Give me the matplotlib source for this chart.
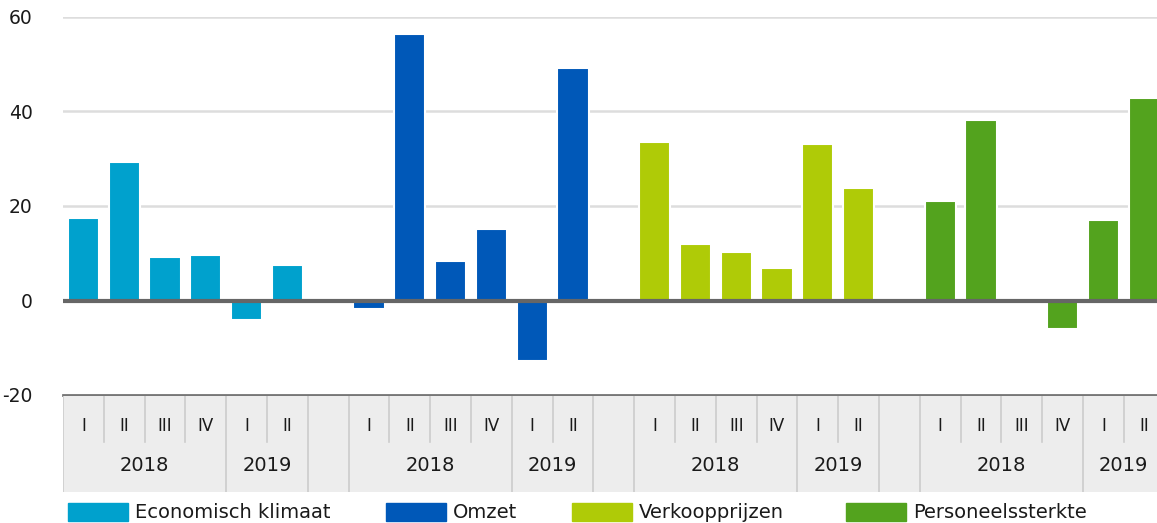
import matplotlib.pyplot as plt
from matplotlib.patches import Rectangle

# data: saldo per kwartaal, vier indicatoren
series = ["Economisch klimaat", "Omzet", "Verkoopprijzen", "Personeelssterkte"]
colors = ["#00a1cd", "#0058b8", "#afcb07", "#53a31e"]
quarters = ["I", "II", "III", "IV", "I", "II"]
years = ["2018", "2019"]
economisch = [17.5, 29.3, 9.3, 9.7, -4.2, 7.6]
omzet = [-1.7, 56.4, 8.4, 15.2, -12.8, 49.2]
verkoop = [33.6, 11.9, 10.2, 6.8, 33.2, 23.8]
personeel = [21.1, 38.2, 0.0, -6.0, 17.0, 42.9]
values = [economisch, omzet, verkoop, personeel]
yticks = [-20, 0, 20, 40, 60]

W, H = 1157, 523
plt.rcParams['font.family'] = ['DejaVu Sans']
fig = plt.figure(figsize=(W / 100, H / 100), dpi=100)
txtcol = "#1a1a1a"

slot = 40.8
x0 = 63
nslots = 27
ax = fig.add_axes([x0 / W, 1 - 395 / H, nslots * slot / W, (395 - 17) / H])
ax.set_xlim(-0.5, nslots - 0.5)
ax.set_ylim(-20, 60)

for g in range(4):
    xs = [7 * g + k for k in range(6)]
    ax.bar(xs, values[g], width=0.76, color=colors[g], edgecolor="white",
           linewidth=1.5, zorder=3)

ax.set_yticks(yticks)
ax.set_yticklabels([str(t) for t in yticks], fontsize=13.5, color=txtcol)
ax.tick_params(axis="y", length=0, pad=22)
ax.tick_params(axis="x", bottom=False, labelbottom=False)
ax.grid(axis="y", color="#dddddd", linewidth=1.8, zorder=0)
ax.axhline(0, color="#666666", linewidth=3, zorder=4)
for s in ["top", "right", "left"]:
    ax.spines[s].set_visible(False)
ax.spines["bottom"].set_color("#777777")
ax.spines["bottom"].set_linewidth(2)
ax.spines["bottom"].set_zorder(5)

# category axis box below
cax = fig.add_axes([x0 / W, 1 - 492 / H, nslots * slot / W, (492 - 396) / H])
cax.set_xlim(-0.5, nslots - 0.5)
cax.set_ylim(0, 1)
cax.set_facecolor("#ededed")
for s in cax.spines.values():
    s.set_visible(False)
cax.set_xticks([])
cax.set_yticks([])

cax.axvline(-0.5, color="#cccccc", linewidth=1.2)
for g in range(4):
    base = 7 * g
    for k, q in enumerate(quarters):
        cax.text(base + k, 0.69, q, ha="center", va="center", fontsize=12,
                 color=txtcol)
    for k in [0.5, 1.5, 2.5, 4.5]:
        cax.plot([base + k, base + k], [0.52, 1], color="#cccccc", linewidth=1.2)
    for k in [3.5, 5.5, 6.5]:
        cax.axvline(base + k, color="#cccccc", linewidth=1.2)
    cax.text(base + 1.5, 0.28, years[0], ha="center", va="center",
             fontsize=14, color=txtcol)
    cax.text(base + 4.5, 0.28, years[1], ha="center", va="center",
             fontsize=14, color=txtcol)

# legend
leg_x = [68, 386, 572, 846]
for name, col, lx in zip(series, colors, leg_x):
    fig.add_artist(Rectangle((lx / W, 1 - 521 / H), 60 / W, 18 / H,
                             transform=fig.transFigure, color=col))
    fig.text((lx + 67) / W, 1 - 512 / H, name, ha="left", va="center",
             fontsize=14, color=txtcol)

fig.savefig("out.png", dpi=100)
